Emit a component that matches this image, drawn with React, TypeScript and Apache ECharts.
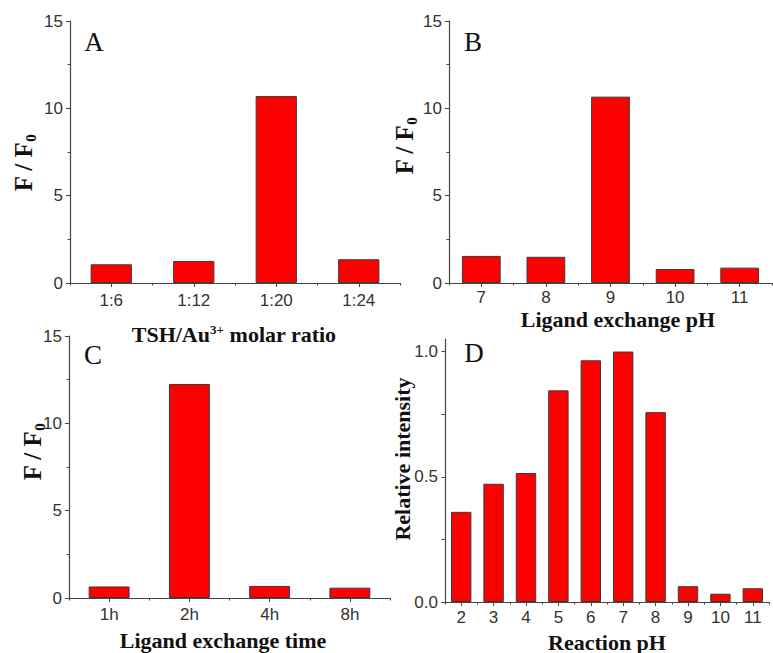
import React, { useEffect, useRef } from "react";
import * as echarts from "echarts";

const catsA = ["1:6", "1:12", "1:20", "1:24"];
const valsA = [1.07, 1.26, 10.7, 1.36];
const catsB = ["7", "8", "9", "10", "11"];
const valsB = [1.55, 1.5, 10.67, 0.8, 0.88];
const catsC = ["1h", "2h", "4h", "8h"];
const valsC = [0.66, 12.25, 0.69, 0.59];
const catsD = ["2", "3", "4", "5", "6", "7", "8", "9", "10", "11"];
const valsD = [0.36, 0.472, 0.515, 0.845, 0.965, 1.0, 0.758, 0.063, 0.033, 0.055];

const SANS = "'Liberation Sans', Arial, sans-serif";
const SERIF = "'Liberation Serif', 'Times New Roman', serif";
const AXIS_COLOR = "#444";
const LABEL_COLOR = "#333";

export default function App() {
  const ref = useRef<HTMLDivElement>(null);
  useEffect(() => {
    if (!ref.current) return;
    const chart = echarts.init(ref.current, null, { renderer: "svg" });

    const grids = [
      { left: 70, top: 21, width: 330, height: 262 },
      { left: 449, top: 21, width: 323, height: 262 },
      { left: 69, top: 336, width: 321, height: 262 },
      { left: 445, top: 339, width: 324, height: 263 },
    ];
    const cats = [catsA, catsB, catsC, catsD];
    const vals = [valsA, valsB, valsC, valsD];
    const barW = ["50%", "60%", "51%", "63%"];
    const labelMargin = [9, 6, 8, 7];

    const xMain = cats.map((c, i) => ({
      type: "category",
      gridIndex: i,
      data: c,
      position: "bottom",
      axisLine: { show: true, lineStyle: { color: AXIS_COLOR, width: 1.2 } },
      axisTick: { show: true, alignWithLabel: true, length: 4, lineStyle: { color: AXIS_COLOR } },
      axisLabel: { color: LABEL_COLOR, fontFamily: SANS, fontSize: 17, margin: labelMargin[i], lineHeight: 17 },
      splitLine: { show: false },
    }));
    const xTicks = cats.map((c, i) => ({
      type: "category",
      gridIndex: i,
      data: c,
      position: "bottom",
      offset: 0,
      axisLine: { show: false },
      axisTick: { show: true, alignWithLabel: false, length: 2.5, lineStyle: { color: AXIS_COLOR } },
      axisLabel: { show: false },
      splitLine: { show: false },
    }));

    const yCommon = (i: number) => ({
      type: "value",
      gridIndex: i,
      axisLine: { show: true, lineStyle: { color: AXIS_COLOR, width: 1.2 } },
      axisLabel: { color: LABEL_COLOR, fontFamily: SANS, fontSize: 17, margin: 7 },
      splitLine: { show: false },
    });
    const yAxes = [0, 1, 2].map((i) => ({
      ...yCommon(i),
      min: 0,
      max: 15,
      interval: 5,
      axisTick: { show: true, length: 4, lineStyle: { color: AXIS_COLOR } },
      minorTick: { show: true, splitNumber: 2, length: 2.5, lineStyle: { color: AXIS_COLOR } },
    }));
    yAxes.push({
      ...yCommon(3),
      min: 0,
      max: 1.05,
      interval: 0.5,
      axisLabel: {
        color: LABEL_COLOR,
        fontFamily: SANS,
        fontSize: 17,
        margin: 7,
        customValues: [0, 0.5, 1.0],
        formatter: (v: number) => v.toFixed(1),
      },
      axisTick: { show: true, length: 3.5, customValues: [0, 0.25, 0.5, 0.75, 1.0], lineStyle: { color: AXIS_COLOR } },
    } as any);

    const series = vals.map((v, i) => ({
      type: "bar",
      xAxisIndex: i,
      yAxisIndex: i,
      data: v,
      barWidth: barW[i],
      itemStyle: { color: "#ff0000", borderColor: "#3a3a3a", borderWidth: 1 },
    }));

    const title = (text: string, x: number, y: number, rich: any, rot = 0) => ({
      type: "text",
      x,
      y,
      rotation: rot,
      style: {
        text,
        align: "center",
        verticalAlign: "middle",
        fill: "#111",
        rich,
      },
    });
    const richMain = {
      b: { fontFamily: SERIF, fontWeight: "bold", fontSize: 22, fill: "#111", verticalAlign: "bottom" },
      sup: { fontFamily: SERIF, fontWeight: "bold", fontSize: 13, fill: "#111", verticalAlign: "top" },
    };
    const richF = {
      b: { fontFamily: SERIF, fontWeight: "bold", fontSize: 25, fill: "#111", verticalAlign: "bottom" },
      sub: { fontFamily: SERIF, fontWeight: "bold", fontSize: 15, fill: "#111", verticalAlign: "bottom", padding: [0, 0, -3, 0] },
    };
    const letter = (t: string, x: number, y: number) => ({
      type: "text",
      x,
      y,
      style: {
        text: t,
        align: "center",
        verticalAlign: "middle",
        fontFamily: SERIF,
        fontSize: 27,
        fill: "#111",
      },
    });

    chart.setOption({
      animation: false,
      backgroundColor: "#ffffff",
      grid: grids.map((g) => ({ ...g, containLabel: false })),
      xAxis: [...xMain, ...xTicks],
      yAxis: yAxes,
      series,
      graphic: [
        letter("A", 94, 42),
        letter("B", 473, 42),
        letter("C", 93, 355),
        letter("D", 474, 353),
        title("{b|TSH/Au}{sup|3+}{b| molar ratio}", 234, 334, richMain),
        title("{b|Ligand exchange pH}", 618, 319, richMain),
        title("{b|Ligand exchange time}", 223, 640, richMain),
        title("{b|Reaction pH}", 607, 642, richMain),
        title("{b|F / F}{sub|0}", 23, 163, richF, Math.PI / 2),
        title("{b|F / F}{sub|0}", 404, 146, richF, Math.PI / 2),
        title("{b|F / F}{sub|0}", 32, 452, richF, Math.PI / 2),
        title("{b|Relative intensity}", 402, 459, richMain, Math.PI / 2),
      ],
    });
    return () => chart.dispose();
  }, []);
  return (
    <div
      ref={ref}
      style={{ position: "absolute", left: 0, top: 0, width: 773, height: 653, background: "#fff" }}
    />
  );
}
